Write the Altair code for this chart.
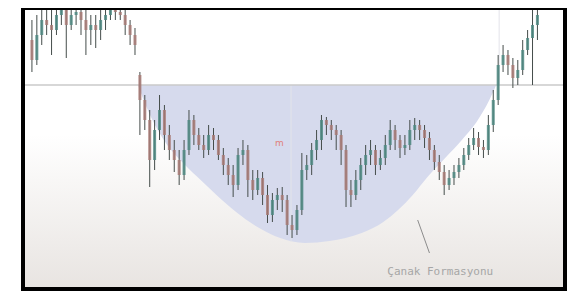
import altair as alt
import pandas as pd

# ---- candle data (price units, time index) ----
opens = [249, 229, 254, 269, 264, 259, 274, 279, 264, 274, 277, 269, 259, 264, 259, 269, 274, 279, 277, 274,
         264, 254, 214, 189, 169, 129, 159, 179, 154, 139, 129, 114, 139, 169, 154, 144, 139, 154, 149, 134,
         124, 114, 104, 134, 139, 109, 99, 111, 94, 74, 89, 94, 89, 64, 59, 79, 119, 124, 139, 149,
         169, 164, 159, 154, 139, 99, 94, 109, 124, 134, 139, 124, 131, 144, 159, 149, 141, 144, 159, 164,
         159, 151, 139, 127, 117, 104, 111, 117, 124, 134, 144, 151, 142, 139, 164, 189, 224, 234, 224, 211,
         219, 239, 251, 264]
closes = [229, 254, 269, 264, 259, 274, 279, 264, 274, 277, 269, 259, 264, 259, 269, 274, 279, 277, 274, 264,
          254, 244, 189, 169, 129, 159, 179, 154, 139, 129, 114, 139, 169, 154, 144, 139, 154, 149, 134, 124,
          114, 104, 134, 139, 109, 99, 111, 94, 74, 89, 94, 89, 64, 59, 79, 119, 124, 139, 149, 169,
          164, 159, 154, 139, 99, 94, 109, 124, 134, 139, 124, 131, 144, 159, 149, 141, 144, 159, 164, 159,
          151, 139, 127, 117, 104, 111, 117, 124, 134, 144, 151, 142, 139, 164, 189, 224, 234, 224, 211, 219,
          239, 251, 264, 274]
highs = [269, 274, 284, 284, 279, 284, 289, 289, 284, 289, 284, 279, 274, 274, 279, 284, 289, 289, 284, 281,
         269, 261, 217, 194, 179, 169, 194, 184, 164, 149, 139, 149, 179, 174, 161, 154, 164, 161, 154, 141,
         131, 124, 141, 149, 144, 119, 119, 117, 104, 96, 101, 102, 94, 74, 84, 136, 134, 146, 159, 174,
         172, 169, 164, 159, 144, 109, 119, 131, 144, 149, 144, 139, 154, 169, 164, 154, 154, 169, 171, 169,
         164, 157, 144, 134, 124, 119, 124, 131, 141, 151, 161, 157, 149, 174, 199, 234, 244, 239, 231, 229,
         249, 259, 284, 289]
lows = [217, 224, 244, 254, 234, 254, 264, 231, 259, 264, 254, 234, 244, 241, 249, 259, 269, 269, 269, 254,
        244, 234, 154, 159, 102, 119, 149, 139, 129, 117, 104, 109, 134, 144, 139, 131, 134, 139, 129, 114,
        104, 92, 99, 124, 92, 89, 94, 84, 66, 67, 79, 77, 54, 51, 54, 74, 109, 114, 129, 139,
        154, 149, 139, 124, 82, 82, 89, 99, 114, 124, 114, 119, 124, 139, 139, 131, 134, 139, 149, 149,
        141, 129, 119, 109, 94, 99, 104, 111, 119, 129, 139, 134, 131, 134, 157, 184, 217, 214, 201, 204,
        214, 234, 204, 249]

# ---- cup (Çanak) outline ----
cup_t = [21.6, 23.6, 26.6, 31.2, 34.6, 37.6, 41.6, 45.6, 50.6, 55.6, 60.6, 67.2, 71.6, 74.6, 77.6, 80.6,
         84.2, 87.6, 90.6, 93.2, 94.6]
cup_price = [204, 179, 151, 124, 108, 94, 77, 63, 51, 46, 48, 56, 67, 79, 94, 112, 131, 149, 167, 189, 204]
neckline = 204

label_text = "Çanak Formasyonu"

W, H = 542, 281
xs = alt.Scale(domain=[-0.8, 107.6], nice=False, zero=False)
ys = alt.Scale(domain=[0, 281], nice=False, zero=False)

n = len(opens)
candles = pd.DataFrame({
    "t": list(range(n)), "open": opens, "close": closes, "high": highs, "low": lows,
})
candles["dir"] = ["up" if c >= o else "down" for o, c in zip(opens, closes)]

cup = pd.DataFrame({"t": cup_t, "price": cup_price, "top": [neckline] * len(cup_t)})

X = lambda f: alt.X(f, type="quantitative", scale=xs, axis=None)
Y = lambda f: alt.Y(f, type="quantitative", scale=ys, axis=None)

bg = alt.Chart(pd.DataFrame({"a": [0]})).mark_rect(
    color=alt.LinearGradient(gradient="linear", x1=0, x2=0, y1=0, y2=1,
                             stops=[alt.GradientStop(color="#ffffff", offset=0.45),
                                    alt.GradientStop(color="#e8e4e1", offset=1)])
).encode(x=alt.value(0), x2=alt.value(W), y=alt.value(0), y2=alt.value(H))

cup_area = alt.Chart(cup).mark_area(color="#d6daed", interpolate="monotone").encode(
    x=X("t"), y=Y("price"), y2="top")

neck = alt.Chart(pd.DataFrame({"p": [neckline]})).mark_rule(color="#cacaca", strokeWidth=1.5).encode(
    y=Y("p"))

vlines = alt.Chart(pd.DataFrame({"t": [52.8, 95.2, 102.0], "p1": [47, 204, 204], "p2": [204, 281, 281]})).mark_rule(
    color="#e3e4ea", strokeWidth=1).encode(x=X("t"), y=Y("p1"), y2="p2")

wicks = alt.Chart(candles).mark_rule(color="#454d4b", strokeWidth=1, clip=True).encode(
    x=X("t"), y=Y("low"), y2="high")

bodies = alt.Chart(candles).mark_bar(size=3, clip=True, opacity=0.85).encode(
    x=X("t"), y=Y("open"), y2="close",
    color=alt.Color("dir:N", scale=alt.Scale(domain=["up", "down"], range=["#4f8a82", "#a87a76"]), legend=None))

marker = alt.Chart(pd.DataFrame({"t": [50.4], "p": [146], "s": ["m"]})).mark_text(
    color="#e0807a", fontSize=9, font="DejaVu Sans").encode(x=X("t"), y=Y("p"), text="s")

arrow = alt.Chart(pd.DataFrame({"t1": [78.6], "p1": [69], "t2": [81.0], "p2": [36]})).mark_rule(
    color="#8c8c8c", strokeWidth=1).encode(x=X("t1"), y=Y("p1"), x2="t2", y2="p2")

label = alt.Chart(pd.DataFrame({"t": [83.2], "p": [17], "s": [label_text]})).mark_text(
    color="#a6a6a6", fontSize=11, font="DejaVu Sans Mono").encode(x=X("t"), y=Y("p"), text="s")

frame = alt.Chart(pd.DataFrame({"a": [0]})).mark_rect(
    filled=False, stroke="#000000", strokeWidth=4, fillOpacity=0).encode(
    x=alt.value(0), x2=alt.value(W), y=alt.value(0), y2=alt.value(H))

chart = alt.layer(bg, cup_area, vlines, neck, wicks, bodies, marker, arrow, label, frame).properties(
    width=W, height=H,
    autosize=alt.AutoSizeParams(type="none"),
    padding={"left": 15, "top": 0, "right": 2, "bottom": 2},
).configure_view(stroke=None)

chart.save("out.html", embed_options={"renderer": "svg", "actions": False})
